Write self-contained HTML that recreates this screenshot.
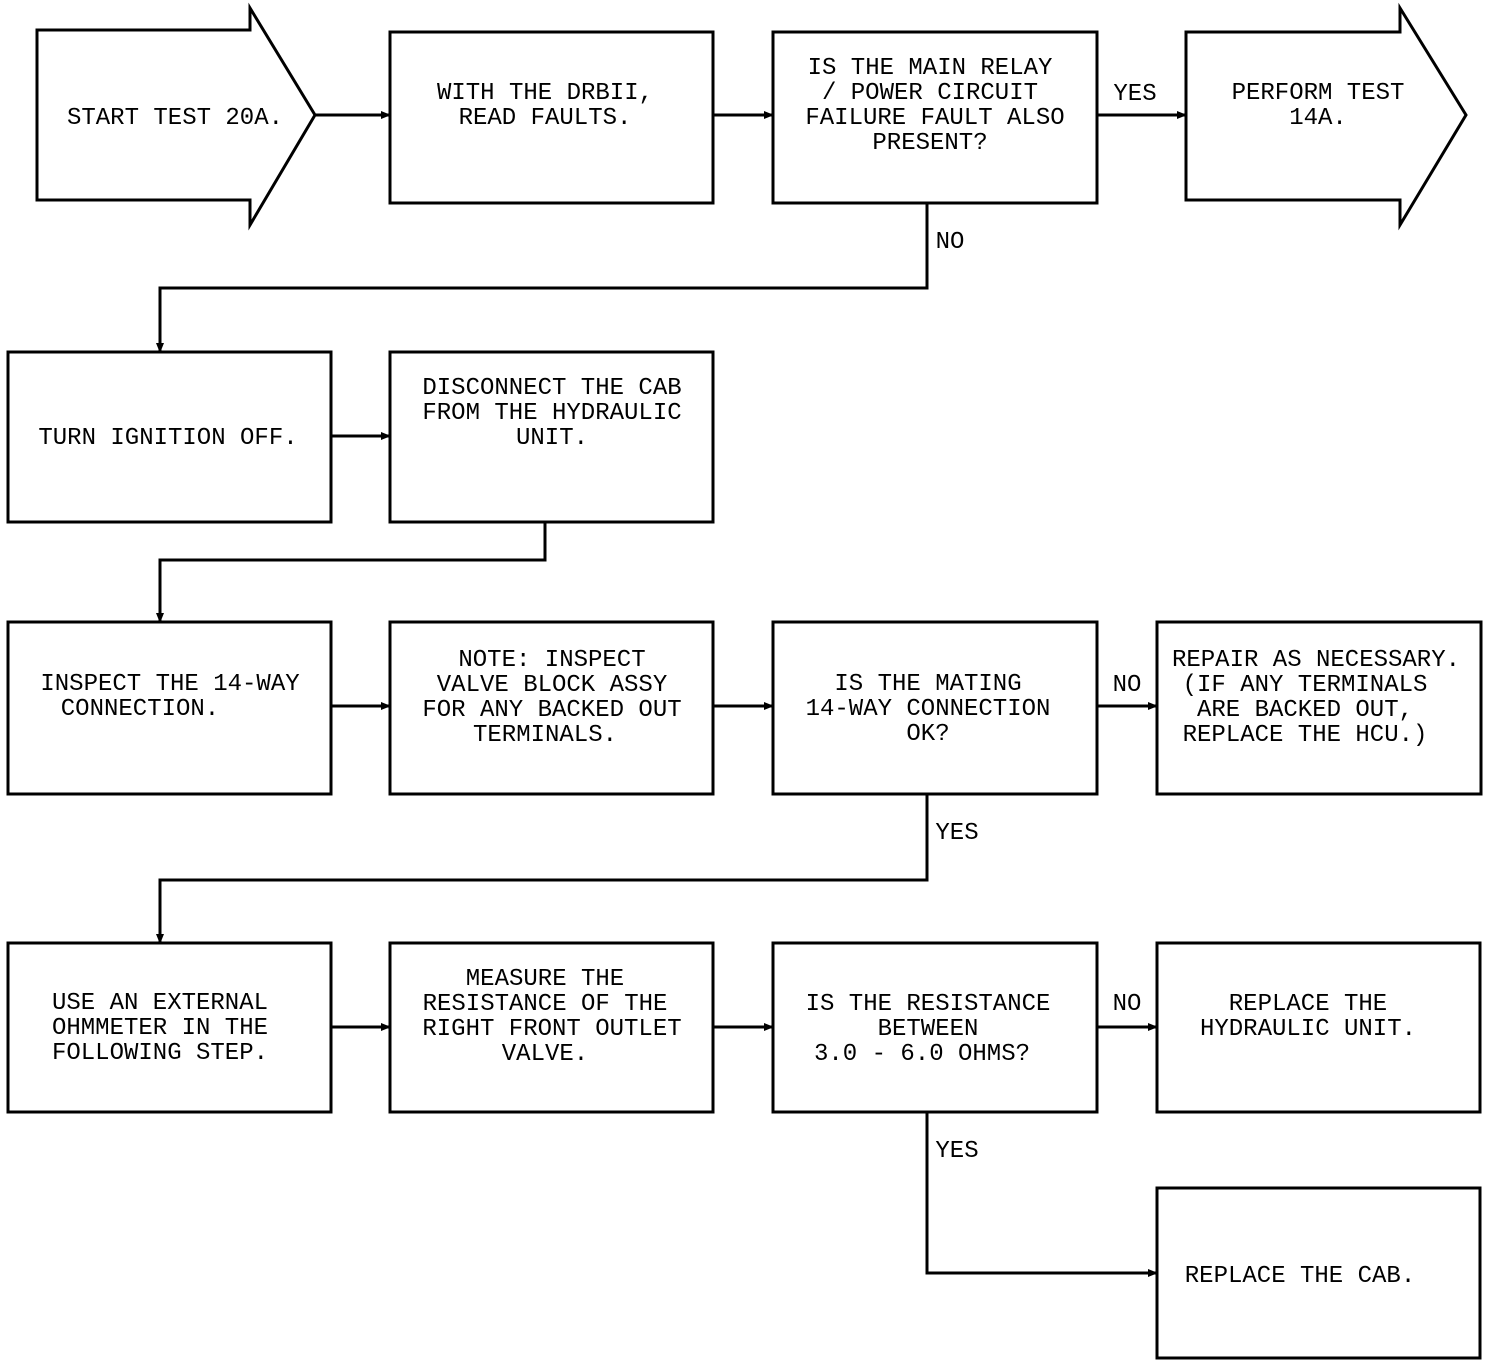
<!DOCTYPE html>
<html><head><meta charset="utf-8"><style>
html,body{margin:0;padding:0;background:#fff;}
svg{display:block;}
text{font-family:"Liberation Mono",monospace;font-size:24px;fill:#000;text-anchor:middle;}
</style></head><body>
<svg width="1504" height="1368" viewBox="0 0 1504 1368" xmlns="http://www.w3.org/2000/svg">
<defs><marker id="a" markerWidth="10" markerHeight="8" refX="9" refY="4" orient="auto" markerUnits="userSpaceOnUse"><path d="M0,0 L10,4 L0,8 z" fill="#000"/></marker></defs>
<g fill="none" stroke="#000" stroke-width="3">
<path d="M37,30 H250 V8 L315,115 L250,225 V200 H37 Z"/>
<rect x="390" y="32" width="323" height="171"/>
<rect x="773" y="32" width="324" height="171"/>
<path d="M1186,32 H1400 V8 L1466,115 L1400,225 V200 H1186 Z"/>
<rect x="8" y="352" width="323" height="170"/>
<rect x="390" y="352" width="323" height="170"/>
<rect x="8" y="622" width="323" height="172"/>
<rect x="390" y="622" width="323" height="172"/>
<rect x="773" y="622" width="324" height="172"/>
<rect x="1157" y="622" width="324" height="172"/>
<rect x="8" y="943" width="323" height="169"/>
<rect x="390" y="943" width="323" height="169"/>
<rect x="773" y="943" width="324" height="169"/>
<rect x="1157" y="943" width="323" height="169"/>
<rect x="1157" y="1188" width="323" height="170"/>
<g marker-end="url(#a)">
<path d="M315,115 H390"/>
<path d="M713,115 H773"/>
<path d="M1097,115 H1186"/>
<path d="M927,203 V288 H160 V352"/>
<path d="M331,436 H390"/>
<path d="M545,522 V560 H160 V622"/>
<path d="M331,706 H390"/>
<path d="M713,706 H773"/>
<path d="M1097,706 H1157"/>
<path d="M927,794 V880 H160 V943"/>
<path d="M331,1027 H390"/>
<path d="M713,1027 H773"/>
<path d="M1097,1027 H1157"/>
<path d="M927,1112 V1273 H1157"/>
</g>
</g>
<text x="175" y="124">START TEST 20A.</text>
<text x="545" y="99">WITH THE DRBII,</text>
<text x="545" y="124">READ FAULTS.</text>
<text x="930" y="74">IS THE MAIN RELAY</text>
<text x="930" y="99">/ POWER CIRCUIT</text>
<text x="935" y="124">FAILURE FAULT ALSO</text>
<text x="930" y="149">PRESENT?</text>
<text x="1318" y="99">PERFORM TEST</text>
<text x="1318" y="124">14A.</text>
<text x="1135" y="100">YES</text>
<text x="950" y="248">NO</text>
<text x="168" y="444">TURN IGNITION OFF.</text>
<text x="552" y="394">DISCONNECT THE CAB</text>
<text x="552" y="419">FROM THE HYDRAULIC</text>
<text x="552" y="444">UNIT.</text>
<text x="170" y="690">INSPECT THE 14-WAY</text>
<text x="140" y="715">CONNECTION.</text>
<text x="552" y="666">NOTE:  INSPECT</text>
<text x="552" y="691">VALVE BLOCK ASSY</text>
<text x="552" y="716">FOR ANY BACKED OUT</text>
<text x="545" y="741">TERMINALS.</text>
<text x="928" y="690">IS THE MATING</text>
<text x="928" y="715">14-WAY CONNECTION</text>
<text x="928" y="740">OK?</text>
<text x="1127" y="691">NO</text>
<text x="1316" y="666">REPAIR AS NECESSARY.</text>
<text x="1305" y="691">(IF ANY TERMINALS</text>
<text x="1305" y="716">ARE BACKED OUT,</text>
<text x="1305" y="741">REPLACE THE HCU.)</text>
<text x="957" y="839">YES</text>
<text x="160" y="1009">USE AN EXTERNAL</text>
<text x="160" y="1034">OHMMETER IN THE</text>
<text x="160" y="1059">FOLLOWING STEP.</text>
<text x="545" y="985">MEASURE THE</text>
<text x="545" y="1010">RESISTANCE OF THE</text>
<text x="552" y="1035">RIGHT FRONT OUTLET</text>
<text x="545" y="1060">VALVE.</text>
<text x="928" y="1010">IS THE RESISTANCE</text>
<text x="928" y="1035">BETWEEN</text>
<text x="922" y="1060">3.0 - 6.0 OHMS?</text>
<text x="1127" y="1010">NO</text>
<text x="1308" y="1010">REPLACE THE</text>
<text x="1308" y="1035">HYDRAULIC UNIT.</text>
<text x="957" y="1157">YES</text>
<text x="1300" y="1282">REPLACE THE CAB.</text>
</svg>
</body></html>
